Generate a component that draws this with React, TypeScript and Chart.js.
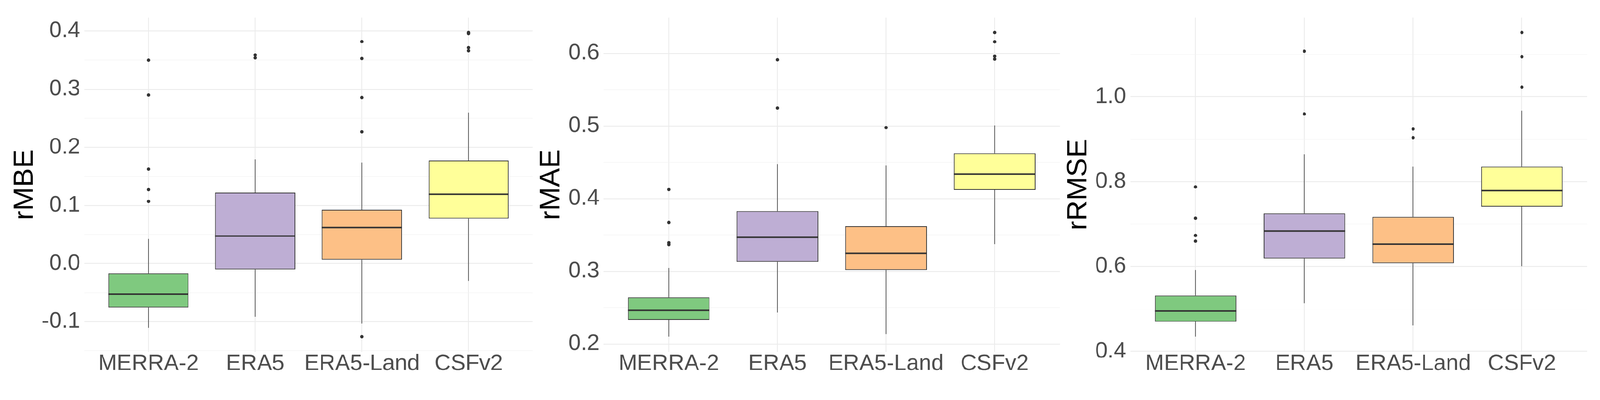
import React, { useEffect, useRef } from 'react';
import { Chart, registerables } from 'chart.js';

Chart.register(...registerables);

// ---------- data ----------
const CATEGORIES = ['MERRA-2', 'ERA5', 'ERA5-Land', 'CSFv2'];
const BOX_COLORS = ['#7FC97F', '#BEAED4', '#FDC086', '#FFFF99'];

// rMBE
const MBE_LOWER = [-0.1105, -0.0914, -0.1033, -0.0298];
const MBE_Q1 = [-0.0753, -0.0099, 0.0071, 0.0776];
const MBE_MEDIAN = [-0.0523, 0.0475, 0.0619, 0.1193];
const MBE_Q3 = [-0.0171, 0.1222, 0.0929, 0.1775];
const MBE_UPPER = [0.0424, 0.1795, 0.174, 0.2598];
const MBE_OUTLIERS = [
  [0.35, 0.29, 0.1626, 0.1273, 0.107],
  [0.359, 0.354],
  [0.382, 0.3528, 0.2857, 0.2267, -0.1258],
  [0.3974, 0.3957, 0.3715, 0.3664],
];
const MBE_TICKS = [-0.1, 0.0, 0.1, 0.2, 0.3, 0.4];

// rMAE
const MAE_LOWER = [0.2099, 0.2431, 0.2133, 0.3375];
const MAE_Q1 = [0.2333, 0.3128, 0.3019, 0.4119];
const MAE_MEDIAN = [0.2462, 0.3467, 0.3247, 0.434];
const MAE_Q3 = [0.2639, 0.3831, 0.362, 0.4622];
const MAE_UPPER = [0.3046, 0.4472, 0.4455, 0.5009];
const MAE_OUTLIERS = [
  [0.4126, 0.3674, 0.3393, 0.3369],
  [0.5912, 0.5247],
  [0.4978],
  [0.6286, 0.616, 0.596, 0.5922],
];
const MAE_TICKS = [0.2, 0.3, 0.4, 0.5, 0.6];

// rRMSE
const RMSE_LOWER = [0.4343, 0.5132, 0.461, 0.6004];
const RMSE_Q1 = [0.4697, 0.619, 0.6073, 0.7409];
const RMSE_MEDIAN = [0.4947, 0.6834, 0.6526, 0.7787];
const RMSE_Q3 = [0.5318, 0.7246, 0.7166, 0.835];
const RMSE_UPPER = [0.5917, 0.864, 0.835, 0.9669];
const RMSE_OUTLIERS = [
  [0.7874, 0.7136, 0.673, 0.6596],
  [1.1074, 0.9593],
  [0.9238, 0.9036],
  [1.151, 1.094, 1.0226],
];
const RMSE_TICKS = [0.4, 0.6, 0.8, 1.0];

type Spec = {
  title: string;
  lower: number[];
  q1: number[];
  median: number[];
  q3: number[];
  upper: number[];
  outliers: number[][];
  ticks: number[];
};

const SPECS: Spec[] = [
  { title: 'rMBE', lower: MBE_LOWER, q1: MBE_Q1, median: MBE_MEDIAN, q3: MBE_Q3, upper: MBE_UPPER, outliers: MBE_OUTLIERS, ticks: MBE_TICKS },
  { title: 'rMAE', lower: MAE_LOWER, q1: MAE_Q1, median: MAE_MEDIAN, q3: MAE_Q3, upper: MAE_UPPER, outliers: MAE_OUTLIERS, ticks: MAE_TICKS },
  { title: 'rRMSE', lower: RMSE_LOWER, q1: RMSE_Q1, median: RMSE_MEDIAN, q3: RMSE_Q3, upper: RMSE_UPPER, outliers: RMSE_OUTLIERS, ticks: RMSE_TICKS },
];

// ---------- layout / style ----------
const PAGE_W = 4228;
const PAGE_H = 1024;
const LAYOUT = [
  { left: 0, width: 1412, axisWidth: 223, padRight: 1, titlePad: 28.5 },
  { left: 1412, width: 1393, axisWidth: 183, padRight: 3, titlePad: 8 },
  { left: 2805, width: 1423, axisWidth: 182, padRight: 34, titlePad: 8 },
];
const FONT = "'Liberation Sans', Arial, sans-serif";
const TEXT_GREY = '#4D4D4D';
const GRID_MAJOR = '#EBEBEB';
const GRID_MINOR = '#F2F2F2';
const LINE_DARK = '#333333';

function makeBoxPlugin(spec: Spec) {
  return {
    id: 'boxParts',
    beforeDatasetsDraw(chart: any) {
      const meta = chart.getDatasetMeta(0);
      const ys = chart.scales.y;
      const ctx = chart.ctx;
      ctx.save();
      ctx.strokeStyle = LINE_DARK;
      ctx.lineWidth = 1.6;
      meta.data.forEach((bar: any, i: number) => {
        const x = bar.x;
        ctx.beginPath();
        ctx.moveTo(x, ys.getPixelForValue(spec.q3[i]));
        ctx.lineTo(x, ys.getPixelForValue(spec.upper[i]));
        ctx.moveTo(x, ys.getPixelForValue(spec.q1[i]));
        ctx.lineTo(x, ys.getPixelForValue(spec.lower[i]));
        ctx.stroke();
      });
      ctx.restore();
    },
    afterDatasetsDraw(chart: any) {
      const meta = chart.getDatasetMeta(0);
      const ys = chart.scales.y;
      const ctx = chart.ctx;
      ctx.save();
      ctx.strokeStyle = LINE_DARK;
      ctx.lineWidth = 4;
      meta.data.forEach((bar: any, i: number) => {
        const y = ys.getPixelForValue(spec.median[i]);
        ctx.beginPath();
        ctx.moveTo(bar.x - bar.width / 2, y);
        ctx.lineTo(bar.x + bar.width / 2, y);
        ctx.stroke();
      });
      ctx.restore();
    },
  };
}

function Panel({ spec, layout }: { spec: Spec; layout: typeof LAYOUT[number] }) {
  const ref = useRef<HTMLCanvasElement | null>(null);

  useEffect(() => {
    if (!ref.current) return;
    const all = [...spec.lower, ...spec.upper, ...spec.outliers.flat()];
    const dmin = Math.min(...all);
    const dmax = Math.max(...all);
    const expand = (dmax - dmin) * 0.05;
    const ymin = dmin - expand;
    const ymax = dmax + expand;

    const step = spec.ticks[1] - spec.ticks[0];
    const minor: number[] = [];
    const cand = [spec.ticks[0] - step / 2, ...spec.ticks.map((t) => t + step / 2)];
    cand.forEach((m) => {
      const r = Math.round(m * 1e6) / 1e6;
      if (r >= ymin && r <= ymax) minor.push(r);
    });
    const tickVals = [...spec.ticks, ...minor].sort((a, b) => a - b);
    const isMajor = (v: number) => spec.ticks.some((t) => Math.abs(t - v) < 1e-6);

    const boxes = CATEGORIES.map((_, i) => ({ x: i + 1, y: [spec.q1[i], spec.q3[i]] }));
    const outPts: { x: number; y: number }[] = [];
    spec.outliers.forEach((arr, i) => arr.forEach((v) => outPts.push({ x: i + 1, y: v })));

    const chart = new Chart(ref.current, {
      type: 'bar',
      data: {
        datasets: [
          {
            type: 'bar',
            data: boxes as any,
            backgroundColor: BOX_COLORS,
            borderColor: LINE_DARK,
            borderWidth: 2,
            borderSkipped: false,
            barPercentage: 0.75,
            categoryPercentage: 1,
          } as any,
          {
            type: 'scatter',
            data: outPts,
            pointRadius: 4.4,
            pointBackgroundColor: LINE_DARK,
            pointBorderWidth: 0,
          } as any,
        ],
      },
      options: {
        animation: false,
        responsive: false,
        devicePixelRatio: 1,
        events: [],
        layout: { padding: { top: 46, right: layout.padRight, bottom: 0, left: 0 } },
        plugins: { legend: { display: false }, tooltip: { enabled: false } },
        scales: {
          x: {
            type: 'linear',
            min: 0.4,
            max: 4.6,
            offset: false,
            afterBuildTicks: (scale: any) => {
              scale.ticks = CATEGORIES.map((_, i) => ({ value: i + 1 }));
            },
            afterFit: (scale: any) => {
              scale.height = 94;
            },
            grid: { color: GRID_MAJOR, lineWidth: 2.2, drawTicks: false, offset: false },
            border: { display: false },
            ticks: {
              autoSkip: false,
              maxRotation: 0,
              padding: 2,
              color: TEXT_GREY,
              font: { family: FONT, size: 59, lineHeight: 1 },
              callback: (v: any) => CATEGORIES[Math.round(Number(v)) - 1] ?? '',
            },
          },
          y: {
            type: 'linear',
            min: ymin,
            max: ymax,
            afterBuildTicks: (scale: any) => {
              scale.ticks = tickVals.map((v) => ({ value: v }));
            },
            afterFit: (scale: any) => {
              scale.width = layout.axisWidth;
            },
            grid: {
              drawTicks: false,
              color: (c: any) => (c.tick && isMajor(c.tick.value) ? GRID_MAJOR : GRID_MINOR),
              lineWidth: (c: any) => (c.tick && isMajor(c.tick.value) ? 2.2 : 1.2),
            },
            border: { display: false },
            title: {
              display: true,
              text: spec.title,
              color: '#000000',
              font: { family: FONT, size: 75, lineHeight: 1 },
              padding: { top: layout.titlePad, bottom: 0 },
            },
            ticks: {
              autoSkip: false,
              padding: 11,
              color: TEXT_GREY,
              font: { family: FONT, size: 59, lineHeight: 1 },
              callback: (v: any) => (isMajor(Number(v)) ? Number(v).toFixed(1) : ''),
            },
          },
        },
      } as any,
      plugins: [makeBoxPlugin(spec) as any],
    });
    return () => chart.destroy();
  }, [spec, layout]);

  return (
    <canvas
      ref={ref}
      width={layout.width}
      height={PAGE_H}
      style={{ position: 'absolute', left: layout.left, top: 0, width: layout.width, height: PAGE_H }}
    />
  );
}

export default function App() {
  useEffect(() => {
    document.body.style.margin = '0';
    document.body.style.overflow = 'hidden';
    document.body.style.background = '#ffffff';
  }, []);
  const vw = typeof window !== 'undefined' && window.innerWidth ? window.innerWidth : PAGE_W;
  const vh = typeof window !== 'undefined' && window.innerHeight ? window.innerHeight : PAGE_H;
  const s = Math.min(1, vw / PAGE_W, vh / PAGE_H);
  return (
    <div style={{ position: 'fixed', left: 0, top: 0, width: PAGE_W * s, height: PAGE_H * s, overflow: 'hidden', background: '#ffffff' }}>
      <div
        style={{
          position: 'absolute',
          left: 0,
          top: 0,
          width: PAGE_W,
          height: PAGE_H,
          background: '#ffffff',
          transform: `scale(${s})`,
          transformOrigin: '0 0',
        }}
      >
        {SPECS.map((sp, i) => (
          <Panel key={sp.title} spec={sp} layout={LAYOUT[i]} />
        ))}
      </div>
    </div>
  );
}
